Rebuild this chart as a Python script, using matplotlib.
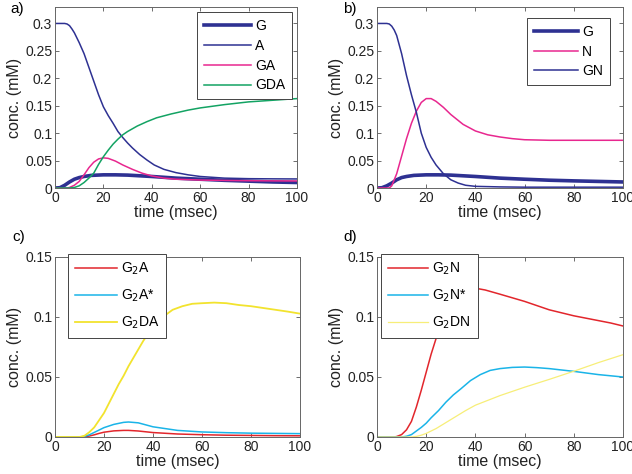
import matplotlib
matplotlib.use('Agg')
import matplotlib.pyplot as plt

plt.rcParams['font.family'] = ['Liberation Sans', 'DejaVu Sans']

# ---- panel a) ----
t_A = [0, 4, 5, 6, 7, 8, 10, 12, 14, 16, 18, 20, 22, 24, 26, 28, 30, 32, 35, 38, 41, 45, 50, 55, 60, 70, 80, 90, 100]
A = [0.3, 0.3, 0.299, 0.296, 0.29, 0.283, 0.265, 0.245, 0.22, 0.195, 0.17, 0.148, 0.132, 0.118, 0.103, 0.092,
     0.082, 0.073, 0.061, 0.051, 0.042, 0.034, 0.028, 0.024, 0.021, 0.018, 0.017, 0.0167, 0.0165]
t_Ga = [0, 2, 4, 6, 8, 10, 12, 15, 20, 25, 30, 40, 50, 60, 70, 80, 90, 100]
G_a = [0, 0.0005, 0.005, 0.011, 0.016, 0.019, 0.021, 0.023, 0.024, 0.024, 0.0235, 0.021, 0.018, 0.016, 0.014,
       0.0125, 0.011, 0.010]
t_GA = [0, 5, 6, 8, 10, 12, 14, 16, 18, 20, 22, 25, 28, 32, 36, 40, 45, 50, 60, 70, 80, 90, 100]
GA = [0, 0, 0.001, 0.005, 0.012, 0.024, 0.037, 0.047, 0.053, 0.055, 0.054, 0.049, 0.042, 0.034, 0.027, 0.022,
      0.018, 0.016, 0.0145, 0.0138, 0.0133, 0.013, 0.0128]
t_GDA = [0, 6, 8, 10, 12, 14, 16, 18, 20, 22, 24, 26, 28, 30, 34, 38, 42, 48, 55, 60, 70, 80, 90, 100]
GDA = [0, 0, 0.001, 0.004, 0.01, 0.018, 0.027, 0.043, 0.057, 0.069, 0.08, 0.089, 0.097, 0.103, 0.113, 0.121,
       0.128, 0.135, 0.142, 0.146, 0.152, 0.157, 0.160, 0.163]

# ---- panel b) ----
t_Gb = [0, 2, 4, 6, 8, 10, 12, 15, 20, 25, 30, 40, 50, 60, 70, 80, 90, 100]
G_b = [0, 0.0005, 0.004, 0.009, 0.015, 0.019, 0.021, 0.023, 0.024, 0.024, 0.0235, 0.021, 0.018, 0.016, 0.0142,
       0.013, 0.012, 0.011]
t_N = [0, 5, 6, 8, 10, 12, 14, 16, 18, 20, 22, 24, 27, 30, 35, 40, 45, 50, 55, 60, 70, 80, 100]
N = [0, 0, 0.004, 0.026, 0.058, 0.09, 0.118, 0.14, 0.156, 0.163, 0.163, 0.158, 0.147, 0.134, 0.116, 0.104,
     0.097, 0.093, 0.09, 0.088, 0.087, 0.087, 0.087]
t_GN = [0, 4, 5, 6, 7, 8, 10, 12, 14, 16, 18, 20, 22, 24, 27, 30, 33, 36, 40, 50, 60, 100]
GN = [0.3, 0.3, 0.299, 0.295, 0.288, 0.278, 0.245, 0.205, 0.17, 0.138, 0.10, 0.074, 0.056, 0.042, 0.026, 0.015,
      0.009, 0.005, 0.003, 0.002, 0.0015, 0.0015]

# ---- panel c) ----
t_G2A = [0, 10, 12, 14, 16, 18, 20, 24, 28, 30, 34, 40, 50, 60, 70, 80, 90, 100]
G2A = [0, 0, 0.0002, 0.0008, 0.0018, 0.003, 0.004, 0.0051, 0.0055, 0.0055, 0.005, 0.0037, 0.0025, 0.0019,
       0.0015, 0.0013, 0.0011, 0.001]
G2As = [0, 0, 0.0005, 0.0018, 0.0038, 0.0058, 0.0078, 0.0105, 0.0122, 0.0125, 0.0118, 0.0085, 0.0055, 0.0042,
        0.0036, 0.0032, 0.003, 0.0028]
t_G2DA = [0, 10, 12, 14, 16, 18, 20, 22, 24, 26, 28, 30, 32, 34, 36, 40, 44, 48, 52, 56, 60, 65, 70, 75, 80,
          85, 90, 95, 100]
G2DA = [0, 0, 0.001, 0.004, 0.008, 0.014, 0.02, 0.028, 0.036, 0.044, 0.051, 0.059, 0.066, 0.073, 0.080, 0.092,
        0.100, 0.106, 0.109, 0.111, 0.1115, 0.112, 0.1115, 0.110, 0.109, 0.1075, 0.106, 0.1045, 0.1028]

# ---- panel d) ----
t_G2N = [0, 7, 8, 10, 12, 14, 16, 18, 20, 22, 24, 26, 28, 30, 33, 36, 40, 44, 50, 55, 60, 65, 70, 75, 80, 85,
         90, 95, 100]
G2N = [0, 0, 0.0004, 0.002, 0.006, 0.013, 0.025, 0.039, 0.054, 0.069, 0.082, 0.094, 0.104, 0.111, 0.118, 0.122,
       0.124, 0.1225, 0.119, 0.116, 0.113, 0.1095, 0.106, 0.1035, 0.101, 0.099, 0.097, 0.095, 0.0925]
t_G2Ns = [0, 10, 12, 14, 16, 18, 20, 22, 25, 28, 31, 34, 38, 42, 46, 50, 55, 60, 65, 70, 80, 90, 100]
G2Ns = [0, 0, 0.0006, 0.002, 0.005, 0.008, 0.0115, 0.016, 0.022, 0.029, 0.035, 0.040, 0.047, 0.052, 0.0555,
        0.057, 0.058, 0.0583, 0.0578, 0.057, 0.0547, 0.052, 0.050]
t_G2DN = [0, 14, 16, 18, 20, 24, 28, 32, 36, 40, 50, 60, 70, 80, 90, 100]
G2DN = [0, 0, 0.0005, 0.0015, 0.003, 0.007, 0.012, 0.017, 0.022, 0.0265, 0.0345, 0.0415, 0.048, 0.0548, 0.062,
        0.0686]

navy = '#2e3192'
pink = '#e8278f'
green = '#13a363'
red = '#e2262c'
cyan = '#1ab4e8'
yellow = '#f2e32e'
yellow2 = '#f7ee78'

fig = plt.figure(figsize=(6.32, 4.74), dpi=100)
W, H = 632.0, 474.0


def make_axes(x0, y0, x1, y1):
    return fig.add_axes([x0 / W, 1 - y1 / H, (x1 - x0) / W, (y1 - y0) / H])


def style(ax, ymax, yticks, yticklabels):
    ax.set_xlim(0, 100)
    ax.set_ylim(0, ymax)
    ax.set_xticks([0, 20, 40, 60, 80, 100])
    ax.set_yticks(yticks)
    ax.set_yticklabels(yticklabels)
    ax.tick_params(direction='in', length=3, width=0.6, top=True, right=True,
                   labelsize=10, color='#555555', labelcolor='#222222', pad=2)
    for s in ax.spines.values():
        s.set_color('#666666')
        s.set_linewidth(0.7)
    ax.set_xlabel('time (msec)', fontsize=11.5, labelpad=0, color='#222222')
    ax.set_ylabel('conc. (mM)', fontsize=11.5, labelpad=2, color='#222222')


big_ticks = [0, 0.05, 0.1, 0.15, 0.2, 0.25, 0.3]
big_labels = ['0', '0.05', '0.1', '0.15', '0.2', '0.25', '0.3']
small_ticks = [0, 0.05, 0.1, 0.15]
small_labels = ['0', '0.05', '0.1', '0.15']

legend_kw = dict(bbox_transform=fig.transFigure, fontsize=10, fancybox=False, edgecolor='#444444',
                 framealpha=1, borderaxespad=0, handletextpad=0.3)

# a)
ax = make_axes(55, 7, 297, 188)
ax.plot(t_Ga, G_a, color=navy, lw=2.6, label='G')
ax.plot(t_A, A, color=navy, lw=1.1, label='A')
ax.plot(t_GA, GA, color=pink, lw=1.1, label='GA')
ax.plot(t_GDA, GDA, color=green, lw=1.1, label='GDA')
style(ax, 0.33, big_ticks, big_labels)
leg = ax.legend(loc='upper right', bbox_to_anchor=(292 / W, 1 - 12 / H), handlelength=3.4,
                labelspacing=0.42, borderpad=0.5, **legend_kw)
leg.get_frame().set_linewidth(0.7)

# b)
ax = make_axes(377, 7, 623, 188)
ax.plot(t_Gb, G_b, color=navy, lw=2.6, label='G')
ax.plot(t_N, N, color=pink, lw=1.1, label='N')
ax.plot(t_GN, GN, color=navy, lw=1.1, label='GN')
style(ax, 0.33, big_ticks, big_labels)
leg = ax.legend(loc='upper right', bbox_to_anchor=(610 / W, 1 - 18 / H), handlelength=3.2,
                labelspacing=0.4, borderpad=0.5, **legend_kw)
leg.get_frame().set_linewidth(0.7)

# c)
ax = make_axes(55, 257, 300, 437)
ax.plot(t_G2A, G2A, color=red, lw=1.1, label='G$_2$A')
ax.plot(t_G2A, G2As, color=cyan, lw=1.1, label='G$_2$A*')
ax.plot(t_G2DA, G2DA, color=yellow, lw=1.3, label='G$_2$DA')
style(ax, 0.15, small_ticks, small_labels)
leg = ax.legend(loc='upper left', bbox_to_anchor=(68 / W, 1 - 254 / H), handlelength=3.0,
                labelspacing=0.75, borderpad=0.5, **legend_kw)
leg.get_frame().set_linewidth(0.7)

# d)
ax = make_axes(377, 257, 623, 437)
ax.plot(t_G2N, G2N, color=red, lw=1.1, label='G$_2$N')
ax.plot(t_G2Ns, G2Ns, color=cyan, lw=1.1, label='G$_2$N*')
ax.plot(t_G2DN, G2DN, color=yellow2, lw=0.9, label='G$_2$DN')
style(ax, 0.15, small_ticks, small_labels)
leg = ax.legend(loc='upper left', bbox_to_anchor=(381 / W, 1 - 254 / H), handlelength=2.9,
                labelspacing=0.75, borderpad=0.5, **legend_kw)
leg.get_frame().set_linewidth(0.7)

fig.text(10 / W, 1 - 2 / H, 'a)', fontsize=11, va='top')
fig.text(343 / W, 1 - 2 / H, 'b)', fontsize=11, va='top')
fig.text(12 / W, 1 - 230 / H, 'c)', fontsize=11, va='top')
fig.text(343 / W, 1 - 230 / H, 'd)', fontsize=11, va='top')

fig.savefig('out.png', dpi=100)
